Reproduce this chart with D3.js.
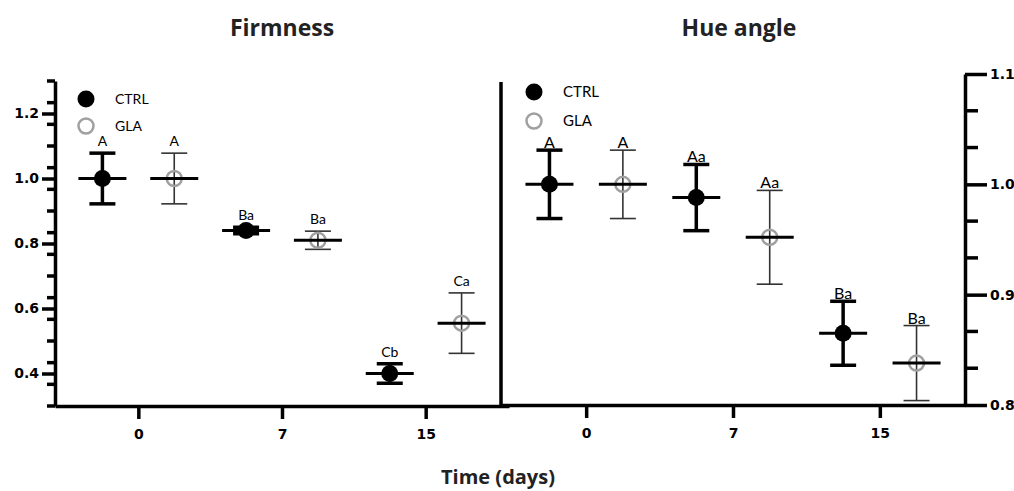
<!DOCTYPE html>
<html>
<head>
<meta charset="utf-8">
<script src="https://cdn.jsdelivr.net/npm/d3@7"></script>
<style>
  body { margin: 0; background: #fff; }
  svg { display: block; }
</style>
</head>
<body>
<svg id="chart" width="1014" height="491"></svg>
<script>
// categories and series
const days = ["0", "7", "15"]
const groups = ["CTRL", "GLA"]

// firmness (mean, sd) per day
const firmCtrl = [1.0, 0.84, 0.40]
const firmCtrlErr = [0.078, 0.01, 0.03]
const firmGla = [1.0, 0.81, 0.555]
const firmGlaErr = [0.078, 0.028, 0.093]
const firmCtrlLbl = ["A", "Ba", "Cb"]
const firmGlaLbl = ["A", "Ba", "Ca"]

// hue angle (mean, sd) per day
const hueCtrl = [1.0, 0.988, 0.865]
const hueCtrlErr = [0.031, 0.030, 0.029]
const hueGla = [1.0, 0.952, 0.838]
const hueGlaErr = [0.031, 0.0425, 0.034]
const hueCtrlLbl = ["A", "Aa", "Ba"]
const hueGlaLbl = ["A", "Aa", "Ba"]

const firmTicks = [0.4, 0.6, 0.8, 1.0, 1.2]
const hueTicks = [0.8, 0.9, 1.0, 1.1]

const svg = d3.select("#chart")
const labFont = "Lato, 'Open Sans', sans-serif"
const tickFont = "'DejaVu Sans', Verdana, sans-serif"

function panel(opt){
  let x = d3.scalePoint().domain(days).range([opt.x0, opt.x1]).padding(0.58)
  let y = d3.scaleLinear().domain(opt.ydom).range([opt.yb, opt.yt])
  let off = x.step()/4
  let g = svg.append("g")

  // x axis
  let xa = g.append("g").attr("transform", "translate(0," + opt.yb + ")")
    .call(d3.axisBottom(x).tickSize(13).tickPadding(10).tickSizeOuter(0))
  xa.select(".domain").attr("stroke-width", 3.5)
  xa.selectAll(".tick line").attr("stroke-width", 3.5)
  xa.selectAll("text").style("font-family", tickFont).style("font-weight", "bold").style("font-size", "14px")

  // y axis, minor ticks at thirds of a major step
  let step = opt.tickStep/3
  let minor = d3.range(opt.ydom[0], opt.ydom[1]+1e-9, step)
    .filter(v => !opt.ticks.some(t => Math.abs(t-v) < 1e-6))
  let ax = opt.right ? d3.axisRight(y) : d3.axisLeft(y)
  let ya = g.append("g").attr("transform", "translate(" + opt.yx + ",0)")
    .call(ax.tickValues(opt.ticks).tickSize(opt.major).tickPadding(3).tickSizeOuter(0).tickFormat(d3.format(".1f")))
  ya.select(".domain").attr("stroke-width", 3.5)
  ya.selectAll(".tick line").attr("stroke-width", 3.5)
  ya.selectAll("text").style("font-family", tickFont).style("font-weight", "bold").style("font-size", "14px")
  ya.selectAll(".minor").data(minor).enter().append("line")
    .attr("class", "minor")
    .attr("x1", 0).attr("x2", opt.right ? opt.minorLen : -opt.minorLen)
    .attr("y1", d => y(d)).attr("y2", d => y(d))
    .attr("stroke", "#000").attr("stroke-width", 3.5)

  // points with error bars
  let series = [
    {vals: opt.ctrl, err: opt.ctrlErr, lbl: opt.ctrlLbl, dx: -off, filled: true},
    {vals: opt.gla, err: opt.glaErr, lbl: opt.glaLbl, dx: off, filled: false}
  ]
  series.forEach(s => {
    let sg = g.append("g")
    let pts = sg.selectAll("g").data(days).enter().append("g")
      .attr("transform", (d, i) => "translate(" + (x(d)+s.dx) + ",0)")
    let vw = s.filled ? 3.5 : 1.6
    let vc = s.filled ? "#000" : "#333"
    pts.append("line").attr("y1", (d, i) => y(s.vals[i]+s.err[i])).attr("y2", (d, i) => y(s.vals[i]-s.err[i]))
      .attr("stroke", vc).attr("stroke-width", vw)
    pts.append("line").attr("x1", -13).attr("x2", 13)
      .attr("y1", (d, i) => y(s.vals[i]+s.err[i])).attr("y2", (d, i) => y(s.vals[i]+s.err[i]))
      .attr("stroke", vc).attr("stroke-width", vw)
    pts.append("line").attr("x1", -13).attr("x2", 13)
      .attr("y1", (d, i) => y(s.vals[i]-s.err[i])).attr("y2", (d, i) => y(s.vals[i]-s.err[i]))
      .attr("stroke", vc).attr("stroke-width", vw)
    pts.append("circle").attr("cy", (d, i) => y(s.vals[i])).attr("r", s.filled ? 8.5 : 7.5)
      .attr("fill", s.filled ? "#000" : "none")
      .attr("stroke", s.filled ? "#000" : "#a0a0a0").attr("stroke-width", s.filled ? 0 : 2.5)
    pts.append("line").attr("x1", -24).attr("x2", 24)
      .attr("y1", (d, i) => y(s.vals[i])).attr("y2", (d, i) => y(s.vals[i]))
      .attr("stroke", "#000").attr("stroke-width", 3)
    pts.append("text").attr("y", (d, i) => y(s.vals[i]+s.err[i]) - opt.lblGap)
      .attr("text-anchor", "middle")
      .style("font-family", labFont).style("font-size", opt.lblSize + "px")
      .text((d, i) => s.lbl[i])
  })

  // legend
  groups.forEach((name, i) => {
    let ly = opt.legY + i*opt.legGap
    g.append("circle").attr("cx", opt.legX).attr("cy", ly).attr("r", i === 0 ? 8.5 : 7.5)
      .attr("fill", i === 0 ? "#000" : "none")
      .attr("stroke", i === 0 ? "#000" : "#a0a0a0").attr("stroke-width", i === 0 ? 0 : 2.5)
    g.append("text").attr("x", opt.legX + 29).attr("y", ly + 5)
      .style("font-family", labFont).style("font-size", opt.legSize + "px")
      .text(name)
  })

  // title
  svg.append("text").attr("x", opt.titleX).attr("y", 36).attr("text-anchor", "middle")
    .style("font-family", "'Open Sans', sans-serif").style("font-weight", "bold").style("font-size", "23px")
    .attr("fill", "#222").text(opt.title)
}

panel({
  title: "Firmness", titleX: 282,
  x0: 55, x1: 509, yx: 55, yb: 406, yt: 81, ydom: [0.3, 1.3], ticks: firmTicks, tickStep: 0.2,
  major: 13, minorLen: 8, right: false,
  ctrl: firmCtrl, ctrlErr: firmCtrlErr, gla: firmGla, glaErr: firmGlaErr,
  ctrlLbl: firmCtrlLbl, glaLbl: firmGlaLbl, lblGap: 7, lblSize: 14,
  legX: 86, legY: 99, legGap: 27, legSize: 14
})

panel({
  title: "Hue angle", titleX: 739,
  x0: 501, x1: 965, yx: 965, yb: 405, yt: 74, ydom: [0.8, 1.1], ticks: hueTicks, tickStep: 0.1,
  major: 22, minorLen: 13, right: true,
  ctrl: hueCtrl, ctrlErr: hueCtrlErr, gla: hueGla, glaErr: hueGlaErr,
  ctrlLbl: hueCtrlLbl, glaLbl: hueGlaLbl, lblGap: 2, lblSize: 16,
  legX: 534, legY: 92, legGap: 29, legSize: 15
})

// divider between panels
svg.append("line").attr("x1", 501).attr("x2", 501).attr("y1", 82).attr("y2", 406)
  .attr("stroke", "#000").attr("stroke-width", 3.5)

svg.append("text").attr("x", 498).attr("y", 484).attr("text-anchor", "middle")
  .style("font-family", "'Open Sans', sans-serif").style("font-weight", "bold").style("font-size", "20px")
  .attr("fill", "#222").text("Time (days)")
</script>
</body>
</html>
